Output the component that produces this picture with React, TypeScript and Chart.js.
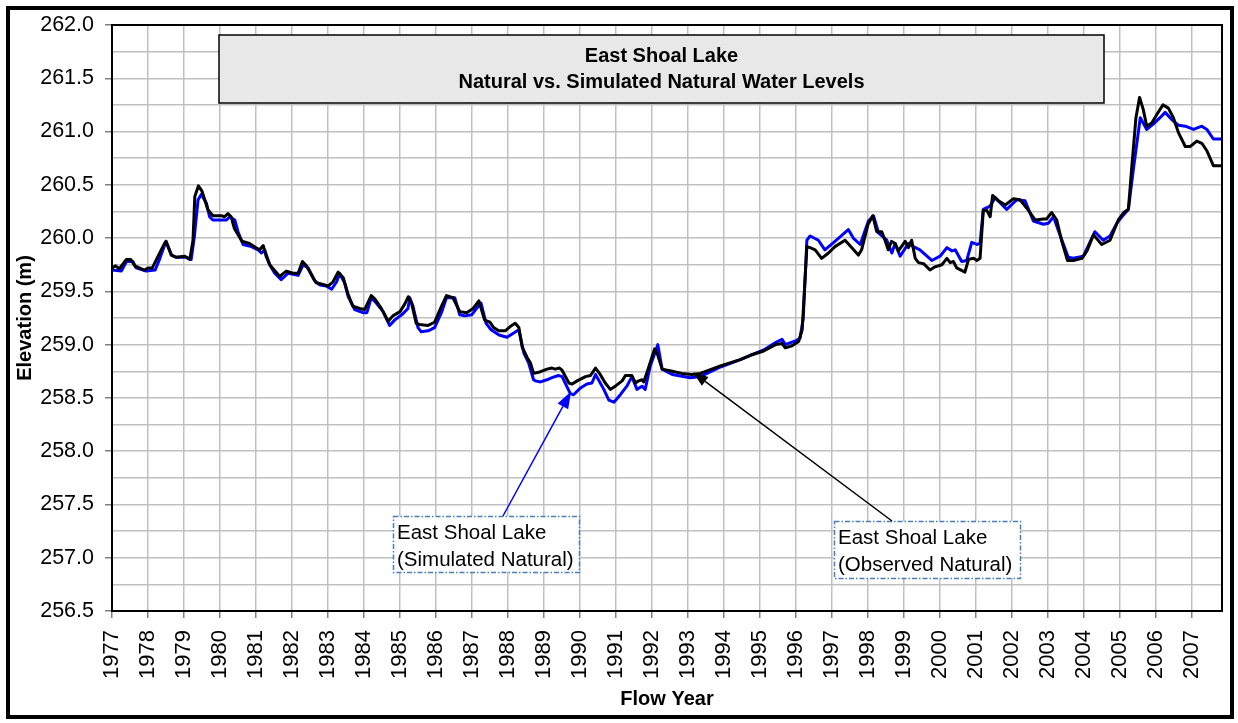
import { useEffect, useRef } from 'react';
import { Chart, registerables } from 'chart.js';

Chart.register(...registerables);

const TITLE_LINES = ['East Shoal Lake', 'Natural vs. Simulated Natural Water Levels'];
const Y_TITLE = 'Elevation (m)';
const X_TITLE = 'Flow Year';
const SIM_LABEL = ['East Shoal Lake', '(Simulated Natural)'];
const OBS_LABEL = ['East Shoal Lake', '(Observed Natural)'];

const YEAR_TICKS = [
  1977, 1978, 1979, 1980, 1981, 1982, 1983, 1984, 1985, 1986, 1987, 1988, 1989, 1990, 1991, 1992,
  1993, 1994, 1995, 1996, 1997, 1998, 1999, 2000, 2001, 2002, 2003, 2004, 2005, 2006, 2007,
];
const Y_TICKS = [
  256.5, 256.75, 257.0, 257.25, 257.5, 257.75, 258.0, 258.25, 258.5, 258.75, 259.0, 259.25, 259.5,
  259.75, 260.0, 260.25, 260.5, 260.75, 261.0, 261.25, 261.5, 261.75, 262.0,
];
const X_MIN = 1977;
const X_MAX = 2007.83;
const Y_MIN = 256.5;
const Y_MAX = 262.0;

// Observed natural (black)
const OBS_YEARS = [
  1977.0, 1977.1, 1977.2, 1977.4, 1977.52, 1977.63, 1977.9, 1978.0, 1978.12, 1978.28, 1978.46, 1978.5,
  1978.65, 1978.79, 1979.02, 1979.16, 1979.25, 1979.3, 1979.4, 1979.5, 1979.66, 1979.8, 1980.04, 1980.12,
  1980.22, 1980.31, 1980.4, 1980.61, 1980.82, 1981.0, 1981.1, 1981.2, 1981.28, 1981.38, 1981.66, 1981.84,
  1982.03, 1982.17, 1982.29, 1982.4, 1982.58, 1982.67, 1982.81, 1983.0, 1983.14, 1983.28, 1983.42, 1983.55,
  1983.69, 1983.88, 1984.02, 1984.2, 1984.3, 1984.48, 1984.67, 1984.8, 1985.0, 1985.13, 1985.23, 1985.32,
  1985.45, 1985.54, 1985.78, 1985.96, 1986.15, 1986.29, 1986.47, 1986.66, 1986.85, 1987.03, 1987.19, 1987.35,
  1987.5, 1987.6, 1987.74, 1987.92, 1988.06, 1988.2, 1988.3, 1988.39, 1988.53, 1988.62, 1988.71, 1988.85,
  1989.08, 1989.22, 1989.31, 1989.43, 1989.5, 1989.69, 1989.78, 1989.92, 1990.15, 1990.29, 1990.43, 1990.56,
  1990.7, 1990.84, 1990.98, 1991.17, 1991.26, 1991.44, 1991.54, 1991.63, 1991.72, 1991.77, 1991.9, 1992.07,
  1992.14, 1992.28, 1992.56, 1992.83, 1993.11, 1993.34, 1993.9, 1994.45, 1994.73, 1995.1, 1995.43, 1995.61,
  1995.7, 1995.89, 1996.07, 1996.17, 1996.3, 1996.39, 1996.53, 1996.71, 1996.9, 1997.08, 1997.36, 1997.55,
  1997.73, 1997.82, 1998.0, 1998.13, 1998.24, 1998.38, 1998.47, 1998.56, 1998.65, 1998.75, 1998.84, 1999.03,
  1999.12, 1999.21, 1999.31, 1999.4, 1999.54, 1999.72, 1999.86, 2000.05, 2000.19, 2000.28, 2000.37, 2000.46,
  2000.69, 2000.79, 2000.93, 2001.02, 2001.11, 2001.2, 2001.3, 2001.39, 2001.46, 2001.62, 2001.81, 2002.04,
  2002.22, 2002.41, 2002.64, 2002.87, 2002.96, 2003.1, 2003.24, 2003.38, 2003.54, 2003.7, 2003.94, 2004.08,
  2004.26, 2004.49, 2004.72, 2004.95, 2005.1, 2005.23, 2005.32, 2005.44, 2005.54, 2005.64, 2005.74, 2005.88,
  2006.02, 2006.19, 2006.34, 2006.48, 2006.62, 2006.81, 2006.95, 2007.13, 2007.27, 2007.41, 2007.59, 2007.83,
];
const OBS_LEVELS = [
  259.72, 259.74, 259.71, 259.8, 259.8, 259.74, 259.7, 259.72, 259.72, 259.83, 259.95, 259.97,
  259.84, 259.82, 259.83, 259.8, 259.98, 260.39, 260.49, 260.44, 260.27, 260.21, 260.21, 260.2,
  260.23, 260.2, 260.09, 259.97, 259.95, 259.91, 259.89, 259.93, 259.83, 259.75, 259.64, 259.69,
  259.67, 259.67, 259.78, 259.74, 259.63, 259.58, 259.57, 259.55, 259.59, 259.68, 259.63, 259.48,
  259.36, 259.34, 259.33, 259.46, 259.43, 259.34, 259.22, 259.27, 259.31, 259.38, 259.45, 259.39,
  259.2, 259.19, 259.18, 259.21, 259.36, 259.46, 259.44, 259.31, 259.3, 259.34, 259.41, 259.23,
  259.21, 259.16, 259.13, 259.13, 259.17, 259.2, 259.16, 258.98, 258.88, 258.83, 258.73, 258.74,
  258.77, 258.78, 258.77, 258.78, 258.76, 258.64, 258.63, 258.66, 258.7, 258.71, 258.78, 258.72,
  258.64, 258.58, 258.61, 258.66, 258.71, 258.71, 258.64, 258.66, 258.67, 258.65, 258.78, 258.96,
  258.92, 258.77, 258.75, 258.73, 258.72, 258.73, 258.8, 258.86, 258.9, 258.94, 259.0, 259.01,
  258.97, 258.99, 259.03, 259.14, 259.92, 259.91, 259.89, 259.81, 259.86, 259.92, 259.98, 259.91,
  259.84, 259.89, 260.13, 260.21, 260.06, 260.06, 259.98, 259.89, 259.97, 259.95, 259.88, 259.97,
  259.91, 259.98, 259.81, 259.77, 259.76, 259.7, 259.73, 259.75, 259.81, 259.77, 259.78, 259.72,
  259.68, 259.8, 259.81, 259.79, 259.81, 260.26, 260.26, 260.2, 260.4, 260.35, 260.31, 260.37,
  260.36, 260.28, 260.17, 260.18, 260.18, 260.24, 260.17, 259.97, 259.79, 259.79, 259.81, 259.88,
  260.03, 259.94, 259.98, 260.17, 260.24, 260.27, 260.65, 261.13, 261.32, 261.21, 261.05, 261.08,
  261.16, 261.25, 261.22, 261.13, 260.99, 260.86, 260.86, 260.91, 260.89, 260.82, 260.68, 260.68,
];

// Simulated natural (blue)
const SIM_YEARS = [
  1977.0, 1977.26, 1977.4, 1977.58, 1977.67, 1977.95, 1978.2, 1978.33, 1978.5, 1978.65, 1978.79, 1979.06,
  1979.2, 1979.29, 1979.39, 1979.48, 1979.62, 1979.71, 1979.8, 1980.04, 1980.18, 1980.27, 1980.41, 1980.5,
  1980.64, 1980.87, 1981.06, 1981.15, 1981.24, 1981.38, 1981.52, 1981.7, 1981.89, 1982.17, 1982.31, 1982.45,
  1982.63, 1982.77, 1982.95, 1983.1, 1983.24, 1983.32, 1983.46, 1983.56, 1983.74, 1983.97, 1984.08, 1984.2,
  1984.34, 1984.53, 1984.71, 1984.85, 1985.08, 1985.22, 1985.27, 1985.36, 1985.5, 1985.59, 1985.78, 1985.96,
  1986.15, 1986.29, 1986.52, 1986.66, 1986.8, 1986.99, 1987.17, 1987.25, 1987.39, 1987.53, 1987.75, 1987.97,
  1988.16, 1988.3, 1988.44, 1988.57, 1988.71, 1988.76, 1988.9, 1989.08, 1989.22, 1989.4, 1989.5, 1989.73,
  1989.82, 1990.0, 1990.19, 1990.33, 1990.43, 1990.66, 1990.8, 1990.94, 1991.12, 1991.3, 1991.44, 1991.58,
  1991.72, 1991.81, 1991.95, 1992.16, 1992.28, 1992.56, 1993.06, 1993.34, 1993.9, 1994.45, 1994.73, 1995.1,
  1995.43, 1995.61, 1995.7, 1996.02, 1996.11, 1996.2, 1996.3, 1996.39, 1996.62, 1996.8, 1997.08, 1997.45,
  1997.59, 1997.78, 1998.01, 1998.15, 1998.29, 1998.52, 1998.66, 1998.75, 1998.89, 1999.12, 1999.26, 1999.44,
  1999.77, 2000.0, 2000.19, 2000.33, 2000.42, 2000.6, 2000.74, 2000.88, 2001.02, 2001.11, 2001.2, 2001.39,
  2001.53, 2001.85, 2002.13, 2002.36, 2002.59, 2002.87, 2003.01, 2003.15, 2003.33, 2003.56, 2003.7, 2003.98,
  2004.3, 2004.53, 2004.72, 2004.91, 2005.1, 2005.23, 2005.37, 2005.56, 2005.74, 2005.92, 2006.11, 2006.25,
  2006.44, 2006.62, 2006.81, 2007.04, 2007.27, 2007.41, 2007.59, 2007.83,
];
const SIM_LEVELS = [
  259.7, 259.69, 259.78, 259.78, 259.72, 259.69, 259.7, 259.81, 259.97, 259.84, 259.82, 259.82,
  259.8, 260.02, 260.36, 260.41, 260.33, 260.2, 260.17, 260.17, 260.17, 260.2, 260.17, 260.06,
  259.94, 259.92, 259.89, 259.86, 259.89, 259.75, 259.67, 259.61, 259.67, 259.65, 259.75, 259.72,
  259.6, 259.56, 259.55, 259.52, 259.59, 259.67, 259.58, 259.45, 259.33, 259.3, 259.3, 259.44,
  259.39, 259.31, 259.18, 259.23, 259.29, 259.34, 259.44, 259.36, 259.16, 259.12, 259.13, 259.16,
  259.3, 259.44, 259.44, 259.28, 259.27, 259.28, 259.36, 259.39, 259.2, 259.14, 259.09, 259.07,
  259.11, 259.14, 258.92, 258.83, 258.67, 258.66, 258.65, 258.67, 258.69, 258.71, 258.7, 258.54,
  258.53, 258.59, 258.63, 258.64, 258.72, 258.58, 258.48, 258.46, 258.53, 258.61, 258.7, 258.58,
  258.61, 258.58, 258.8, 259.0, 258.77, 258.72, 258.69, 258.7, 258.79, 258.86, 258.9, 258.95,
  259.02, 259.05, 259.0, 259.04, 259.06, 259.25, 259.98, 260.02, 259.98, 259.89, 259.97, 260.08,
  260.0, 259.94, 260.16, 260.21, 260.05, 259.98, 259.86, 259.95, 259.83, 259.95, 259.92, 259.89,
  259.79, 259.83, 259.91, 259.88, 259.89, 259.78, 259.79, 259.96, 259.94, 259.95, 260.27, 260.3,
  260.38, 260.27, 260.36, 260.35, 260.16, 260.13, 260.14, 260.2, 260.03, 259.82, 259.81, 259.83,
  260.06, 259.98, 260.02, 260.14, 260.22, 260.27, 260.65, 261.13, 261.02, 261.07, 261.13, 261.18,
  261.11, 261.06, 261.05, 261.02, 261.05, 261.02, 260.93, 260.93,
];

// Arrow tips (data coordinates) for the two call-outs
const SIM_TIP = [1989.75, 258.56];
const OBS_TIP = [1993.14, 258.74];

const FONT = '"Liberation Sans", Arial, Helvetica, sans-serif';

function drawArrow(ctx: CanvasRenderingContext2D, x1: number, y1: number, x2: number, y2: number, color: string, headLen: number, headW: number) {
  const ang = Math.atan2(y2 - y1, x2 - x1);
  const bx = x2 - headLen * Math.cos(ang);
  const by = y2 - headLen * Math.sin(ang);
  ctx.strokeStyle = color;
  ctx.fillStyle = color;
  ctx.lineWidth = 1.5;
  ctx.beginPath();
  ctx.moveTo(x1, y1);
  ctx.lineTo(bx, by);
  ctx.stroke();
  ctx.beginPath();
  ctx.moveTo(x2, y2);
  ctx.lineTo(bx + headW * Math.sin(ang), by - headW * Math.cos(ang));
  ctx.lineTo(bx - headW * Math.sin(ang), by + headW * Math.cos(ang));
  ctx.closePath();
  ctx.fill();
}

function drawCallout(ctx: CanvasRenderingContext2D, x: number, y: number, w: number, h: number, lines: string[]) {
  ctx.fillStyle = '#ffffff';
  ctx.fillRect(x, y, w, h);
  ctx.save();
  ctx.strokeStyle = '#4a7ebb';
  ctx.lineWidth = 1.5;
  ctx.setLineDash([5, 2, 1.5, 2]);
  ctx.strokeRect(x + 0.5, y + 0.5, w, h);
  ctx.restore();
  ctx.fillStyle = '#000000';
  ctx.font = `20.5px ${FONT}`;
  ctx.textAlign = 'left';
  ctx.textBaseline = 'alphabetic';
  ctx.fillText(lines[0], x + 4, y + 23);
  ctx.fillText(lines[1], x + 4, y + 50);
}

const decorPlugin = {
  id: 'decor',
  beforeDraw(chart: any) {
    const ctx = chart.ctx;
    ctx.save();
    ctx.fillStyle = '#ffffff';
    ctx.fillRect(0, 0, chart.width, chart.height);
    ctx.restore();
  },
  afterDraw(chart: any) {
    const ctx: CanvasRenderingContext2D = chart.ctx;
    const { left, top, right, bottom } = chart.chartArea;
    const xs = chart.scales.x;
    const ys = chart.scales.y;
    ctx.save();
    // plot frame
    ctx.strokeStyle = '#000';
    ctx.lineWidth = 2;
    ctx.strokeRect(left, top, right - left, bottom - top);
    // outer frame
    ctx.lineWidth = 4;
    ctx.strokeRect(8, 8, chart.width - 14, chart.height - 14);
    // title box
    const bx = 219, by = 35, bw = 885, bh = 68;
    ctx.fillStyle = '#e8e8e8';
    ctx.fillRect(bx, by, bw, bh);
    ctx.lineWidth = 1.5;
    ctx.strokeStyle = '#000';
    ctx.strokeRect(bx, by, bw, bh);
    ctx.fillStyle = '#000';
    ctx.font = `bold 20px ${FONT}`;
    ctx.textAlign = 'center';
    ctx.textBaseline = 'middle';
    ctx.fillText(TITLE_LINES[0], bx + bw / 2, by + 21);
    ctx.fillText(TITLE_LINES[1], bx + bw / 2, by + 47);
    // call-outs
    drawCallout(ctx, 393, 516, 186, 56, SIM_LABEL);
    drawCallout(ctx, 834, 521, 186, 57, OBS_LABEL);
    const sx = xs.getPixelForValue(SIM_TIP[0]);
    const sy = ys.getPixelForValue(SIM_TIP[1]);
    drawArrow(ctx, 503, 516, sx, sy, '#0000ff', 17, 6);
    const ox = xs.getPixelForValue(OBS_TIP[0]);
    const oy = ys.getPixelForValue(OBS_TIP[1]);
    drawArrow(ctx, 892, 521, ox, oy, '#000000', 15, 5.5);
    ctx.restore();
  },
};

export default function App() {
  const canvasRef = useRef<HTMLCanvasElement | null>(null);

  useEffect(() => {
    const canvas = canvasRef.current;
    if (!canvas) return;
    const obs = OBS_YEARS.map((x, i) => ({ x, y: OBS_LEVELS[i] }));
    const sim = SIM_YEARS.map((x, i) => ({ x, y: SIM_LEVELS[i] }));
    const chart = new Chart(canvas, {
      type: 'line',
      data: {
        datasets: [
          {
            label: 'East Shoal Lake (Observed Natural)',
            data: obs,
            borderColor: '#000000',
            borderWidth: 3,
            pointRadius: 0,
            tension: 0,
            fill: false,
          },
          {
            label: 'East Shoal Lake (Simulated Natural)',
            data: sim,
            borderColor: '#0000ff',
            borderWidth: 3,
            pointRadius: 0,
            tension: 0,
            fill: false,
          },
        ],
      },
      options: {
        animation: false,
        responsive: false,
        devicePixelRatio: 1,
        layout: { padding: { left: 0, top: 25, right: 16, bottom: 0 } },
        plugins: { legend: { display: false }, tooltip: { enabled: false } },
        elements: { line: { borderJoinStyle: 'round' } },
        scales: {
          x: {
            type: 'linear',
            min: X_MIN,
            max: X_MAX,
            afterBuildTicks: (scale: any) => {
              scale.ticks = YEAR_TICKS.map((v) => ({ value: v }));
            },
            afterFit: (scale: any) => {
              scale.height = 112;
            },
            ticks: {
              minRotation: 90,
              maxRotation: 90,
              autoSkip: false,
              padding: 12,
              color: '#000',
              font: { family: FONT, size: 22 },
              callback: (v: any) => String(v),
            },
            grid: { color: '#c0c0c0', lineWidth: 1.5, tickLength: 7, tickColor: '#808080' },
            border: { display: true, color: '#000', width: 2 },
            title: {
              display: true,
              text: X_TITLE,
              color: '#000',
              font: { family: FONT, size: 20, weight: 'bold' },
              padding: { top: 0, bottom: 12 },
            },
          },
          y: {
            type: 'linear',
            min: Y_MIN,
            max: Y_MAX,
            afterBuildTicks: (scale: any) => {
              scale.ticks = Y_TICKS.map((v) => ({ value: v }));
            },
            afterFit: (scale: any) => {
              scale.width = 112;
            },
            ticks: {
              autoSkip: false,
              padding: 11,
              color: '#000',
              font: { family: FONT, size: 21.5 },
              callback: (v: any) => (Math.abs(v * 2 - Math.round(v * 2)) < 1e-6 ? Number(v).toFixed(1) : ''),
            },
            grid: {
              color: '#c0c0c0',
              lineWidth: 1.5,
              tickLength: 7,
              tickColor: (c: any) =>
                c.tick && Math.abs(c.tick.value * 2 - Math.round(c.tick.value * 2)) < 1e-6 ? '#808080' : 'rgba(0,0,0,0)',
            },
            border: { display: true, color: '#000', width: 2 },
            title: {
              display: true,
              text: Y_TITLE,
              color: '#000',
              font: { family: FONT, size: 20, weight: 'bold' },
              padding: { top: 13, bottom: 0 },
            },
          },
        },
      },
      plugins: [decorPlugin],
    } as any);
    return () => chart.destroy();
  }, []);

  return (
    <div style={{ position: 'fixed', left: 0, top: 0, width: 1238, height: 723, background: '#fff' }}>
      <canvas ref={canvasRef} width={1238} height={723} style={{ display: 'block', width: 1238, height: 723 }} />
    </div>
  );
}
